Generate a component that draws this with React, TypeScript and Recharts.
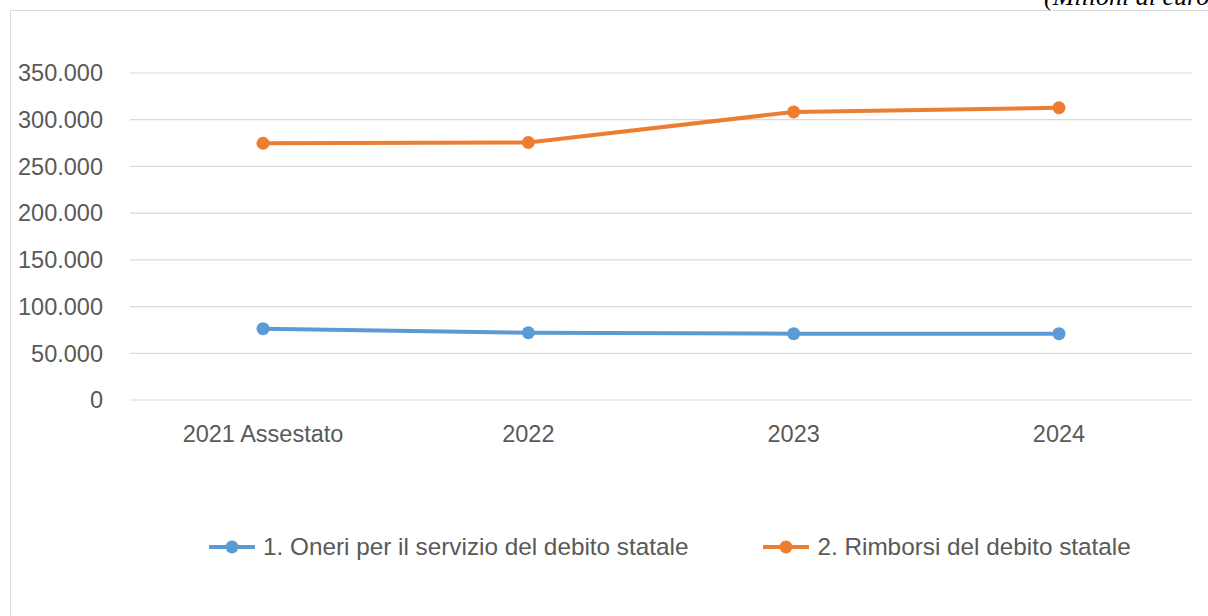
import React from "react";
import { LineChart, Line, XAxis, YAxis, CartesianGrid } from "recharts";

const categories = ["2021 Assestato", "2022", "2023", "2024"];
const oneri = [76300, 72000, 71000, 71000];
const rimborsi = [274800, 275600, 308300, 312800];
const yTicks = [0, 50000, 100000, 150000, 200000, 250000, 300000, 350000];
const unitLabel = "(Milioni di euro)";

const series = [
  { key: "oneri", name: "1. Oneri per il servizio del debito statale", color: "#5B9BD5", values: oneri },
  { key: "rimborsi", name: "2. Rimborsi del debito statale", color: "#ED7D31", values: rimborsi },
];

const data = categories.map((c, i) => {
  const row: Record<string, string | number> = { cat: c };
  series.forEach((s) => {
    row[s.key] = s.values[i];
  });
  return row;
});

const FONT = "'Liberation Sans', Arial, sans-serif";
const TEXT = "#595959";

const fmt = (v: number) =>
  v === 0 ? "0" : String(v).replace(/\B(?=(\d{3})+(?!\d))/g, ".");

export default function App() {
  return (
    <div
      style={{
        position: "absolute",
        left: 0,
        top: 0,
        width: 1208,
        height: 616,
        overflow: "hidden",
        background: "#fff",
      }}
    >
      <div
        style={{
          position: "absolute",
          left: 10,
          top: 10,
          width: 1300,
          height: 700,
          borderLeft: "1.5px solid #d9d9d9",
          borderTop: "1.5px solid #d9d9d9",
        }}
      />
      <div
        style={{
          position: "absolute",
          left: 1044,
          top: -16,
          fontFamily: "'Liberation Serif', 'Times New Roman', serif",
          fontStyle: "italic",
          fontSize: 26,
          lineHeight: 1,
          whiteSpace: "nowrap",
          color: "#000",
        }}
      >
        {unitLabel}
      </div>
      <div style={{ position: "absolute", left: 0, top: 0 }}>
        <LineChart
          width={1208}
          height={616}
          data={data}
          margin={{ top: 73, right: 16, left: 0, bottom: 186 }}
        >
          <CartesianGrid vertical={false} stroke="#d9d9d9" strokeWidth={1.2} />
          <XAxis
            dataKey="cat"
            axisLine={false}
            tickLine={false}
            tickSize={0}
            tickMargin={25}
            height={30}
            interval={0}
            padding={{ left: 133, right: 133 }}
            tick={{ fill: TEXT, fontSize: 23.5, fontFamily: FONT }}
          />
          <YAxis
            width={130}
            domain={[0, 350000]}
            ticks={yTicks}
            axisLine={false}
            tickLine={false}
            tickSize={0}
            tickMargin={27}
            interval={0}
            tickFormatter={fmt}
            tick={{ fill: TEXT, fontSize: 23.5, fontFamily: FONT }}
          />
          {series.map((s) => (
            <Line
              key={s.key}
              type="linear"
              dataKey={s.key}
              name={s.name}
              stroke={s.color}
              strokeWidth={4}
              dot={{ r: 6.5, fill: s.color, stroke: "none" }}
              activeDot={false}
              isAnimationActive={false}
            />
          ))}
        </LineChart>
      </div>
      <div
        style={{
          position: "absolute",
          left: 209,
          top: 532,
          height: 30,
          display: "flex",
          alignItems: "center",
          gap: 75,
          fontFamily: FONT,
          fontSize: 24.3,
          color: TEXT,
          whiteSpace: "nowrap",
        }}
      >
        {series.map((s) => (
          <div key={s.key} style={{ display: "flex", alignItems: "center" }}>
            <svg width={46} height={16} style={{ marginRight: 8 }}>
              <line x1={0} y1={8} x2={46} y2={8} stroke={s.color} strokeWidth={4} />
              <circle cx={23} cy={8} r={6.5} fill={s.color} />
            </svg>
            <span>{s.name}</span>
          </div>
        ))}
      </div>
    </div>
  );
}
